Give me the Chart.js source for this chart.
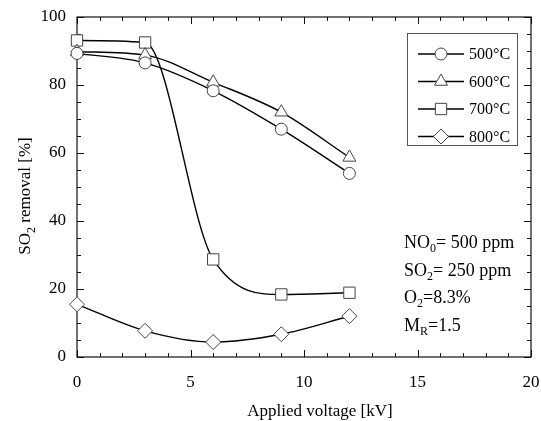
<!DOCTYPE html>
<html><head><meta charset="utf-8">
<script src="https://cdn.jsdelivr.net/npm/chart.js@4/dist/chart.umd.min.js"></script>
<style>html,body{margin:0;padding:0;background:#fff}</style>
</head><body>
<canvas id="c" width="541" height="421" style="width:541px;height:421px;display:block"></canvas>
<script>
// ---- data ----
const voltages = [0, 3, 6, 9, 12];
const series500 = [89.3, 86.5, 78.3, 67.0, 54.0];
const series600 = [89.8, 88.8, 80.8, 72.0, 58.7];
const series700 = [93.1, 92.5, 28.7, 18.4, 18.9];
const series800 = [15.5, 7.7, 4.4, 6.7, 12.0];
const seriesLabels = ['500°C', '600°C', '700°C', '800°C'];
const xTitle = 'Applied voltage [kV]';
const yTitleParts = ['SO', '2', ' removal [%]'];
const notes = [['NO', '0', '= 500 ppm'], ['SO', '2', '= 250 ppm'], ['O', '2', '=8.3%'], ['M', 'R', '=1.5']];

const FONT = "'Liberation Serif', 'Times New Roman', serif";
const styles = [
  {pointStyle: 'circle', radius: 6},
  {pointStyle: 'triangle', radius: 7.5},
  {pointStyle: 'rect', radius: 8},
  {pointStyle: 'rectRot', radius: 7.5}
];
const allSeries = [series500, series600, series700, series800];

const datasets = allSeries.map((s, i) => ({
  label: seriesLabels[i],
  data: voltages.map((v, j) => ({x: v, y: s[j]})),
  borderColor: '#000',
  borderWidth: 1.4,
  cubicInterpolationMode: 'monotone',
  pointStyle: styles[i].pointStyle,
  pointRadius: styles[i].radius,
  pointBackgroundColor: '#fff',
  pointBorderColor: '#444',
  pointBorderWidth: 1,
  clip: false
}));

function drawSub(ctx, parts, x, y, size, subSize, subOff, align) {
  ctx.font = size + 'px ' + FONT;
  const w0 = ctx.measureText(parts[0]).width;
  const w2 = ctx.measureText(parts[2]).width;
  ctx.font = subSize + 'px ' + FONT;
  const w1 = ctx.measureText(parts[1]).width;
  const total = w0 + w1 + w2;
  let sx = align === 'center' ? x - total / 2 : x;
  ctx.textAlign = 'left';
  ctx.textBaseline = 'alphabetic';
  ctx.font = size + 'px ' + FONT;
  ctx.fillText(parts[0], sx, y);
  ctx.font = subSize + 'px ' + FONT;
  ctx.fillText(parts[1], sx + w0, y + subOff);
  ctx.font = size + 'px ' + FONT;
  ctx.fillText(parts[2], sx + w0 + w1, y);
}

const framePlugin = {
  id: 'frame',
  beforeDatasetsDraw(chart) {
    const {ctx, chartArea: a, scales: {x, y}} = chart;
    ctx.save();
    ctx.strokeStyle = '#111';
    ctx.lineWidth = 1.2;
    ctx.strokeRect(a.left, a.top, a.right - a.left, a.bottom - a.top);
    ctx.lineWidth = 1;
    ctx.beginPath();
    for (let v = x.min; v <= x.max; v += 1) {
      const px = Math.round(x.getPixelForValue(v)) + 0.5;
      const len = v % 5 === 0 ? 7 : 4;
      ctx.moveTo(px, a.bottom); ctx.lineTo(px, a.bottom - len);
      ctx.moveTo(px, a.top); ctx.lineTo(px, a.top + len);
    }
    for (let v = y.min; v <= y.max; v += 5) {
      const py = Math.round(y.getPixelForValue(v)) + 0.5;
      const len = v % 20 === 0 ? 7 : 4;
      ctx.moveTo(a.left, py); ctx.lineTo(a.left + len, py);
      ctx.moveTo(a.right, py); ctx.lineTo(a.right - len, py);
    }
    ctx.stroke();
    ctx.restore();
  },
  afterDraw(chart) {
    const {ctx} = chart;
    ctx.save();
    ctx.fillStyle = '#000';
    // x title
    ctx.font = '17px ' + FONT;
    ctx.textAlign = 'center';
    ctx.textBaseline = 'middle';
    ctx.fillText(xTitle, 320, 412);
    // y title
    ctx.save();
    ctx.translate(30, 196);
    ctx.rotate(-Math.PI / 2);
    drawSub(ctx, yTitleParts, 0, 0, 17, 12, 5, 'center');
    ctx.restore();
    // notes
    notes.forEach((n, i) => {
      drawSub(ctx, n, 404, 248 + i * 27.5, 18, 12, 4, 'left');
    });
    // legend
    ctx.strokeStyle = '#555';
    ctx.lineWidth = 1;
    ctx.strokeRect(407.5, 33.5, 110, 112);
    chart.data.datasets.forEach((ds, i) => {
      const ry = 54 + i * 27.5;
      ctx.strokeStyle = '#000';
      ctx.lineWidth = 1.3;
      ctx.beginPath(); ctx.moveTo(418, ry); ctx.lineTo(464, ry); ctx.stroke();
      ctx.fillStyle = '#fff';
      ctx.strokeStyle = '#444';
      ctx.lineWidth = 1;
      Chart.helpers.drawPoint(ctx, {pointStyle: ds.pointStyle, radius: ds.pointRadius, rotation: 0, borderWidth: 1}, 441, ry);
      ctx.fillStyle = '#000';
      ctx.font = '16px ' + FONT;
      ctx.textAlign = 'left';
      ctx.textBaseline = 'middle';
      ctx.fillText(ds.label, 469, ry + 1);
    });
    ctx.restore();
  }
};

new Chart(document.getElementById('c'), {
  type: 'line',
  data: {datasets},
  options: {
    responsive: false,
    animation: false,
    devicePixelRatio: 1,
    layout: {padding: {left: 0, right: 10, top: 17, bottom: 0}},
    plugins: {legend: {display: false}, tooltip: {enabled: false}},
    scales: {
      x: {
        type: 'linear', min: 0, max: 20,
        grid: {display: false, drawTicks: false},
        border: {display: false},
        ticks: {stepSize: 5, color: '#000', padding: 15, font: {family: FONT, size: 17}},
        title: {display: false},
        afterFit(s) { s.height = 64; s.paddingLeft = 0; s.paddingRight = 0; }
      },
      y: {
        type: 'linear', min: 0, max: 100,
        grid: {display: false, drawTicks: false},
        border: {display: false},
        ticks: {stepSize: 20, color: '#000', padding: 11, font: {family: FONT, size: 17}},
        afterFit(s) { s.width = 77; s.paddingTop = 0; s.paddingBottom = 0; }
      }
    }
  },
  plugins: [framePlugin]
});
</script>
</body></html>
